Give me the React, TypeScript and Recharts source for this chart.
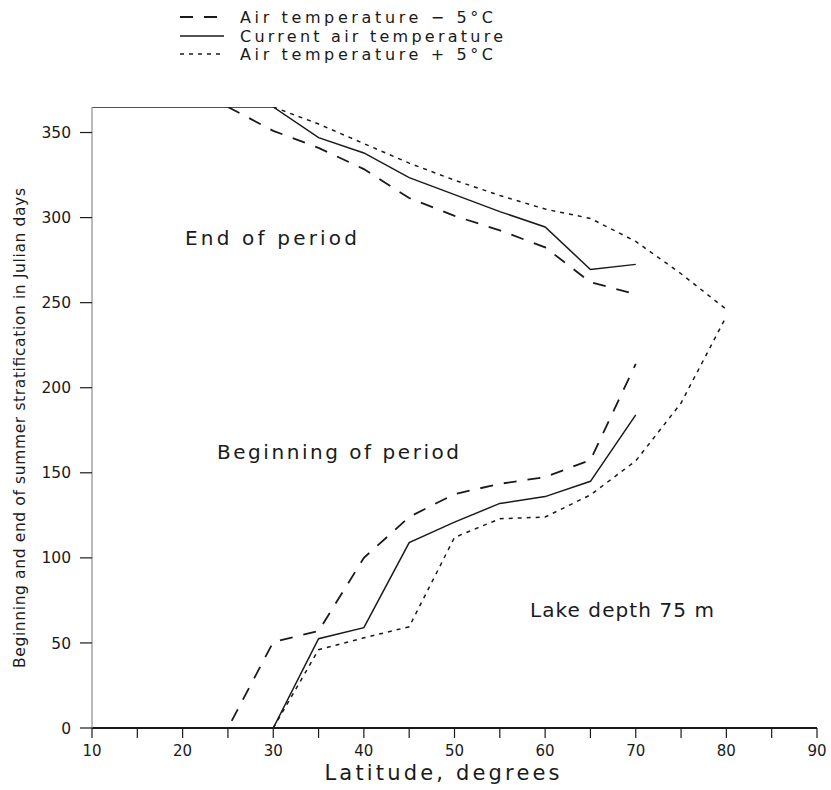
import { LineChart, Line, XAxis, YAxis } from "recharts";

// latitude ticks (every 5, labelled every 10) and day ticks
const latTicks = [10, 15, 20, 25, 30, 35, 40, 45, 50, 55, 60, 65, 70, 75, 80, 85, 90];
const dayTicks = [0, 50, 100, 150, 200, 250, 300, 350];

// air temperature - 5 C
const minusEndLat = [25, 30, 35, 40, 45, 50, 55, 60, 65, 70];
const minusEndDay = [365, 351, 341, 328.5, 311.5, 301, 292.5, 282.5, 262, 255];
const minusBeginLat = [10, 15, 20, 25, 30, 35, 40, 45, 50, 55, 60, 65, 70];
const minusBeginDay = [0, 0, 0, 0, 50.5, 57, 100, 124, 137.5, 143.5, 147.5, 157.5, 214];

// current air temperature
const currentEndLat = [10, 15, 20, 25, 30, 35, 40, 45, 50, 55, 60, 65, 70];
const currentEndDay = [365, 365, 365, 365, 365, 347, 338, 323.5, 313.5, 303.5, 294.5, 269.5, 272.5];
const currentBeginLat = [10, 15, 20, 25, 30, 35, 40, 45, 50, 55, 60, 65, 70];
const currentBeginDay = [0, 0, 0, 0, 0, 52.5, 59, 109, 121, 132, 136, 145, 184];

// air temperature + 5 C
const plusEndLat = [30, 35, 40, 45, 50, 55, 60, 65, 70, 75, 80];
const plusEndDay = [365, 355, 343.5, 332, 322, 313, 305, 299.5, 286, 267, 246];
const plusBeginLat = [30, 35, 40, 45, 50, 55, 60, 65, 70, 75, 80];
const plusBeginDay = [0, 46, 53, 59.5, 112, 123, 124, 137, 157, 191, 242];

const toPoints = (lat: number[], day: number[]) =>
  lat.map((l, i) => ({ lat: l, day: day[i] }));

const FONT = "DejaVu Sans";
const INK = "#1a1a1a";

const DASHED = "13 11";
const DOTTED = "4 5";

const LatTick = (props: any) => {
  const { x, y, payload } = props;
  if (payload.value % 10 !== 0) return <g />;
  return (
    <text x={x} y={y + 16} textAnchor="middle" fontFamily={FONT} fontSize={15} fill={INK}>
      {payload.value}
    </text>
  );
};

const DayTick = (props: any) => {
  const { x, y, payload } = props;
  return (
    <text x={x} y={y} dy="0.36em" textAnchor="end" fontFamily={FONT} fontSize={15.5} fill={INK}>
      {payload.value}
    </text>
  );
};

const xTitle = () => (
  <text
    x={442}
    y={780}
    textAnchor="middle"
    fontFamily={FONT}
    fontSize={21}
    fill={INK}
    textLength={235}
    lengthAdjust="spacing"
  >
    Latitude, degrees
  </text>
);

const yTitle = () => (
  <text
    x={25}
    y={428}
    transform="rotate(-90, 25, 428)"
    textAnchor="middle"
    fontFamily={FONT}
    fontSize={15.5}
    fill={INK}
    textLength={480}
    lengthAdjust="spacing"
  >
    Beginning and end of summer stratification in Julian days
  </text>
);

function Overlay() {
  const t = { fontFamily: FONT, fill: INK };
  return (
    <svg
      width={831}
      height={790}
      style={{ position: "absolute", left: 0, top: 0, pointerEvents: "none" }}
    >
      {/* legend */}
      <line x1={180} y1={17} x2={224} y2={17} stroke={INK} strokeWidth={1.8} strokeDasharray={DASHED} />
      <text x={240} y={22.5} fontSize={16} textLength={253} lengthAdjust="spacing" {...t}>
        Air temperature − 5°C
      </text>
      <line x1={180} y1={36} x2={224} y2={36} stroke={INK} strokeWidth={1.5} />
      <text x={240} y={41.5} fontSize={16} textLength={263} lengthAdjust="spacing" {...t}>
        Current air temperature
      </text>
      <line x1={180} y1={54} x2={224} y2={54} stroke={INK} strokeWidth={1.5} strokeDasharray={DOTTED} />
      <text x={240} y={59.5} fontSize={16} textLength={253} lengthAdjust="spacing" {...t}>
        Air temperature + 5°C
      </text>

      {/* annotations */}
      <text x={185} y={245} fontSize={20} textLength={172} lengthAdjust="spacing" {...t}>
        End of period
      </text>
      <text x={217} y={459} fontSize={20} textLength={242} lengthAdjust="spacing" {...t}>
        Beginning of period
      </text>
      <text x={530} y={617} fontSize={20} textLength={184} lengthAdjust="spacing" {...t}>
        Lake depth 75 m
      </text>
    </svg>
  );
}

export default function App() {
  return (
    <div style={{ position: "absolute", left: 0, top: 0, width: 831, height: 790, background: "#fff" }}>
      <LineChart width={831} height={790} margin={{ top: 107, right: 14, bottom: 30, left: 30 }}>
        <XAxis
          dataKey="lat"
          type="number"
          domain={[10, 90]}
          ticks={latTicks}
          allowDataOverflow
          height={32}
          tickSize={10}
          tickMargin={2}
          tick={LatTick}
          tickLine={{ stroke: INK, strokeWidth: 1.2 }}
          axisLine={{ stroke: INK, strokeWidth: 1.8 }}
          label={xTitle}
        />
        <YAxis
          dataKey="day"
          type="number"
          domain={[0, 365]}
          ticks={dayTicks}
          allowDataOverflow
          width={62}
          tickSize={12}
          tickMargin={9}
          tick={DayTick}
          tickLine={{ stroke: INK, strokeWidth: 1.2 }}
          axisLine={{ stroke: "#8a8a8a", strokeWidth: 1.2 }}
          label={yTitle}
        />
        <Line data={toPoints(currentEndLat, currentEndDay)} dataKey="day" type="linear" dot={false}
          stroke={INK} strokeWidth={1.5} isAnimationActive={false} />
        <Line data={toPoints(currentBeginLat, currentBeginDay)} dataKey="day" type="linear" dot={false}
          stroke={INK} strokeWidth={1.5} isAnimationActive={false} />
        <Line data={toPoints(minusEndLat, minusEndDay)} dataKey="day" type="linear" dot={false}
          stroke={INK} strokeWidth={1.8} strokeDasharray={DASHED} isAnimationActive={false} />
        <Line data={toPoints(minusBeginLat, minusBeginDay)} dataKey="day" type="linear" dot={false}
          stroke={INK} strokeWidth={1.8} strokeDasharray={DASHED} isAnimationActive={false} />
        <Line data={toPoints(plusEndLat, plusEndDay)} dataKey="day" type="linear" dot={false}
          stroke={INK} strokeWidth={1.5} strokeDasharray={DOTTED} isAnimationActive={false} />
        <Line data={toPoints(plusBeginLat, plusBeginDay)} dataKey="day" type="linear" dot={false}
          stroke={INK} strokeWidth={1.5} strokeDasharray={DOTTED} isAnimationActive={false} />
      </LineChart>
      <Overlay />
    </div>
  );
}
